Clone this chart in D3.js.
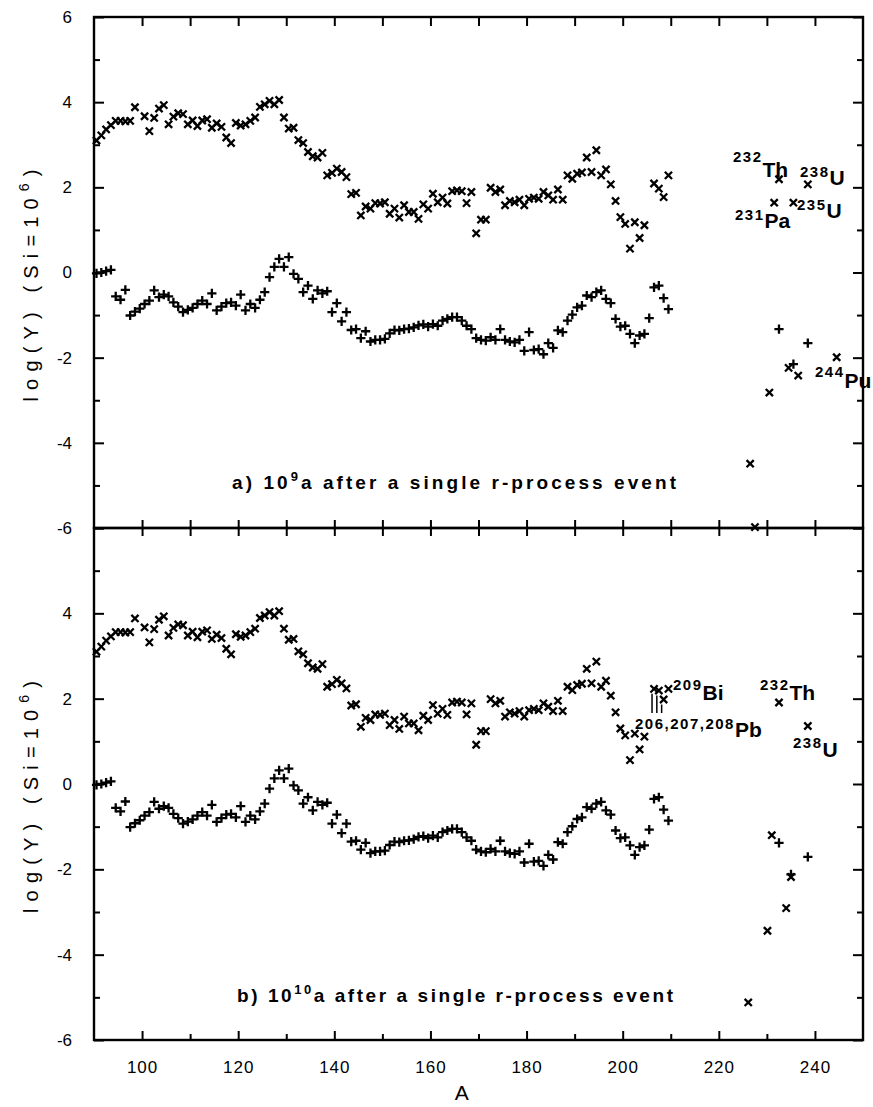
<!DOCTYPE html>
<html>
<head>
<meta charset="utf-8">
<script src="https://cdn.jsdelivr.net/npm/d3@7"></script>
<style>
body { margin: 0; background: #fff; }
svg { display: block; font-family: "Liberation Sans", Arial, sans-serif; }
</style>
</head>
<body>
<div id="chart"></div>
<script>
// mass numbers A = 90..209 for the two main sequences
var massNumbers = d3.range(90, 210);

// upper sequence (x marks), log Y, null = no point
var crossA = [
  3.10, 3.22, 3.36, 3.46, 3.56, 3.56, 3.55, 3.56, 3.88, null,
  3.67, 3.32, 3.63, 3.85, 3.93, 3.48, 3.66, 3.74, 3.72, 3.48,
  3.57, 3.44, 3.57, 3.60, 3.40, 3.50, 3.42, 3.17, 3.04, 3.51,
  3.45, 3.48, 3.56, 3.64, 3.89, 3.95, 4.03, 3.95, 4.05, 3.64,
  3.38, 3.40, 3.11, 3.04, 2.83, 2.73, 2.70, 2.81, 2.28, 2.34,
  2.44, 2.36, 2.24, 1.84, 1.87, 1.34, 1.55, 1.50, 1.63, 1.62,
  1.65, 1.38, 1.50, 1.29, 1.58, 1.42, 1.42, 1.26, 1.60, 1.50,
  1.85, 1.65, 1.76, 1.62, 1.91, 1.93, 1.91, 1.63, 1.89, 0.92,
  1.24, 1.24, 1.99, 1.89, 1.95, 1.58, 1.68, 1.65, 1.71, 1.58,
  1.73, 1.76, 1.73, 1.89, 1.81, 1.71, 1.95, 1.71, 2.28, 2.20,
  2.32, 2.35, 2.70, 2.36, 2.87, 2.28, 2.42, 2.07, 1.68, 1.30,
  1.14, 0.56, 1.18, 0.81, 1.11, null, 2.09, 1.97, 1.77, 2.28
];

// lower sequence (+ marks)
var plusA = [
  -0.02, 0.00, 0.03, 0.06, -0.56, -0.64, -0.41, -1.01, -0.92, -0.85,
  -0.74, -0.66, -0.42, -0.58, -0.52, -0.56, -0.70, -0.80, -0.93, -0.88,
  -0.83, -0.74, -0.66, -0.74, -0.49, -0.89, -0.80, -0.72, -0.70, -0.78,
  -0.52, -0.89, -0.74, -0.83, -0.64, -0.46, -0.11, 0.13, 0.32, 0.13,
  0.36, -0.03, -0.15, -0.46, -0.31, -0.62, -0.42, -0.49, -0.44, -0.93,
  -0.72, -1.15, -0.93, -1.35, -1.33, -1.54, -1.38, -1.62, -1.58, -1.58,
  -1.56, -1.43, -1.35, -1.36, -1.33, -1.32, -1.29, -1.24, -1.22, -1.27,
  -1.21, -1.25, -1.13, -1.09, -1.05, -1.05, -1.13, -1.25, -1.33, -1.54,
  -1.58, -1.60, -1.52, -1.58, -1.33, -1.58, -1.62, -1.64, -1.58, -1.84,
  -1.40, -1.82, -1.80, -1.92, -1.66, -1.77, -1.36, -1.40, -1.13, -0.99,
  -0.82, -0.78, -0.54, -0.58, -0.46, -0.42, -0.62, -0.72, -1.09, -1.27,
  -1.25, -1.44, -1.66, -1.48, -1.44, -1.07, -0.35, -0.31, -0.60, -0.86
];

// panel b: Pb/Bi points replace the last four x marks
var tailMassB = [206, 207, 208, 209];
var tailCrossB = [2.23, 2.19, 1.98, 2.23];

// actinides, panel a
var actCrossMassA = [231, 232, 235, 238, 226, 227, 230, 234, 236, 244];
var actCrossA = [1.64, 2.19, 1.64, 2.07, -4.49, -5.98, -2.82, -2.24, -2.42, -1.99];
var actPlusMassA = [232, 235, 238];
var actPlusA = [-1.33, -2.15, -1.66];

// actinides, panel b
var actCrossMassB = [232, 238, 230.5, 234.5, 233.5, 229.6, 225.6];
var actCrossB = [1.91, 1.36, -1.20, -2.18, -2.91, -3.44, -5.12];
var actPlusMassB = [232, 238, 234.5];
var actPlusB = [-1.38, -1.71, -2.12];

var xTicks = [100, 110, 120, 130, 140, 150, 160, 170, 180, 190, 200, 210, 220, 230, 240];
var xLabels = [100, 120, 140, 160, 180, 200, 220, 240];

var width = 873, height = 1107;
var left = 94, right = 863;

var x = d3.scaleLinear().domain([90, 250]).range([left, right]);

var svg = d3.select("#chart").append("svg")
    .attr("width", width)
    .attr("height", height);

var crossPath = "M-3.6,-3.6L3.6,3.6M-3.6,3.6L3.6,-3.6";
var plusPath = "M-4.6,0H4.6M0,-4.6V4.6";

function pts(mass, vals) {
  var out = [];
  mass.forEach(function(a, i) {
    if (vals[i] !== null) out.push({A: a, v: vals[i]});
  });
  return out;
}

function noDomain(g) { g.select(".domain").remove(); }

function drawPanel(p) {
  var y = d3.scaleLinear().domain([-6, 6]).range([p.bottom, p.top]);
  var g = svg.append("g");

  var even = [-6, -4, -2, 0, 2, 4, 6], odd = [-5, -3, -1, 1, 3, 5];

  // inward ticks, left and right
  [[even, 10], [odd, 6]].forEach(function(t) {
    g.append("g").attr("transform", "translate(" + left + ",0)")
      .call(d3.axisRight(y).tickValues(t[0]).tickSize(t[1]).tickFormat(""))
      .call(noDomain);
    g.append("g").attr("transform", "translate(" + right + ",0)")
      .call(d3.axisLeft(y).tickValues(t[0]).tickSize(t[1]).tickFormat(""))
      .call(noDomain);
  });

  // y labels
  g.append("g").attr("transform", "translate(" + left + ",0)")
    .call(d3.axisLeft(y).tickValues(p.yLabels).tickSize(0).tickPadding(22)
      .tickFormat(function(d) { return String(d); }))
    .call(noDomain)
    .selectAll("text").style("font-size", "17px").attr("fill", "#000");

  g.selectAll(".tick line").attr("stroke", "#000").attr("stroke-width", 2);

  // frame
  g.append("rect")
    .attr("x", left).attr("y", p.top)
    .attr("width", right - left).attr("height", p.bottom - p.top)
    .attr("fill", "none").attr("stroke", "#000").attr("stroke-width", 2.4);

  // marks (the original plots them a hair right of the tick positions)
  var marks = g.append("g").attr("transform", "translate(2.5,0)")
    .attr("stroke", "#000").attr("stroke-width", 2.3).attr("fill", "none");

  marks.selectAll(".cx").data(p.crosses).enter().append("path")
    .attr("d", crossPath)
    .attr("transform", function(d) { return "translate(" + x(d.A) + "," + y(d.v) + ")"; });
  marks.selectAll(".pl").data(p.pluses).enter().append("path")
    .attr("d", plusPath)
    .attr("transform", function(d) { return "translate(" + x(d.A) + "," + y(d.v) + ")"; });

  // caption
  var cap = g.append("text")
    .attr("x", p.capX).attr("y", p.capY)
    .attr("textLength", p.capLen).attr("lengthAdjust", "spacing")
    .style("font-size", "19px").style("font-weight", "bold");
  cap.append("tspan").text(p.capPre);
  cap.append("tspan").attr("dy", -8).style("font-size", "13px").text(p.capSup);
  cap.append("tspan").attr("dy", 8).text("a after a single r-process event");

  // y axis title
  var yt = g.append("text")
    .attr("transform", "translate(38," + ((p.top + p.bottom) / 2 + 13) + ") rotate(-90)")
    .attr("text-anchor", "middle")
    .attr("textLength", 232).attr("lengthAdjust", "spacing")
    .style("font-size", "20px");
  yt.append("tspan").text("log(Y)  (Si=10");
  yt.append("tspan").attr("dy", -9).style("font-size", "14px").text("6");
  yt.append("tspan").attr("dy", 9).text(")");

  // isotope labels
  p.isotopes.forEach(function(d) {
    var t = g.append("text").attr("x", d[0]).attr("y", d[1]).style("font-weight", "bold");
    t.append("tspan").attr("dy", -d[2]).style("font-size", "15px")
      .style("letter-spacing", "1.5px").text(d[3]);
    t.append("tspan").attr("dy", d[2]).style("font-size", "21px").text(d[4]);
  });

  return {g: g, y: y};
}

// panel a
var pa = drawPanel({
  top: 17, bottom: 528,
  yLabels: [-6, -4, -2, 0, 2, 4, 6],
  crosses: pts(massNumbers, crossA).concat(pts(actCrossMassA, actCrossA)),
  pluses: pts(massNumbers, plusA).concat(pts(actPlusMassA, actPlusA)),
  capX: 232, capY: 489, capLen: 444, capPre: "a) 10", capSup: "9",
  isotopes: [
    [733, 177, 15, "232", "Th"],
    [800, 185, 8, "238", "U"],
    [735, 228, 8, "231", "Pa"],
    [797, 218, 8, "235", "U"],
    [815, 388, 11, "244", "Pu"]
  ]
});

// panel b
var crossB = pts(massNumbers, crossA).filter(function(d) { return d.A < 206; })
  .concat(pts(tailMassB, tailCrossB))
  .concat(pts(actCrossMassB, actCrossB));
var pb = drawPanel({
  top: 528, bottom: 1040,
  yLabels: [-6, -4, -2, 0, 2, 4],
  crosses: crossB,
  pluses: pts(massNumbers, plusA).concat(pts(actPlusMassB, actPlusB)),
  capX: 237, capY: 1002, capLen: 436, capPre: "b) 10", capSup: "10",
  isotopes: [
    [673, 700, 10, "209", "Bi"],
    [635, 737, 8, "206,207,208", "Pb"],
    [760, 700, 10, "232", "Th"],
    [793, 757, 9, "238", "U"]
  ]
});

// little strokes tying the Pb points to their label
pb.g.append("g").attr("transform", "translate(2.5,0)")
  .selectAll("line").data(pts(tailMassB.slice(0, 3), tailCrossB.slice(0, 3)))
  .enter().append("line")
  .attr("x1", function(d) { return x(d.A) - 2; })
  .attr("x2", function(d) { return x(d.A) - 2; })
  .attr("y1", function(d) { return pb.y(d.v) + 5; })
  .attr("y2", 713)
  .attr("stroke", "#000").attr("stroke-width", 1.5);

// x ticks: top of panel a (inward), across the shared border, bottom of panel b
function xTickLayer(yPos, axisFn, size, values) {
  svg.append("g").attr("transform", "translate(0," + yPos + ")")
    .call(axisFn(x).tickValues(values).tickSize(size).tickFormat(""))
    .call(noDomain)
    .selectAll("line").attr("stroke", "#000").attr("stroke-width", 2);
}
xTickLayer(17, d3.axisBottom, 9, xTicks);
xTickLayer(528, d3.axisTop, 8, xTicks);
xTickLayer(528, d3.axisBottom, 8, xTicks);
xTickLayer(1040, d3.axisTop, 9, xTicks.filter(function(d) { return d % 20 === 0; }));
xTickLayer(1040, d3.axisTop, 6, xTicks.filter(function(d) { return d % 20 !== 0; }));

svg.append("g").attr("transform", "translate(0,1040)")
  .call(d3.axisBottom(x).tickValues(xLabels).tickSize(0).tickPadding(21))
  .call(noDomain)
  .selectAll("text").style("font-size", "17px").style("letter-spacing", "1px").attr("fill", "#000");

svg.append("text")
  .attr("x", x(166.5)).attr("y", 1100)
  .attr("text-anchor", "middle")
  .style("font-size", "21px")
  .text("A");
</script>
</body>
</html>
